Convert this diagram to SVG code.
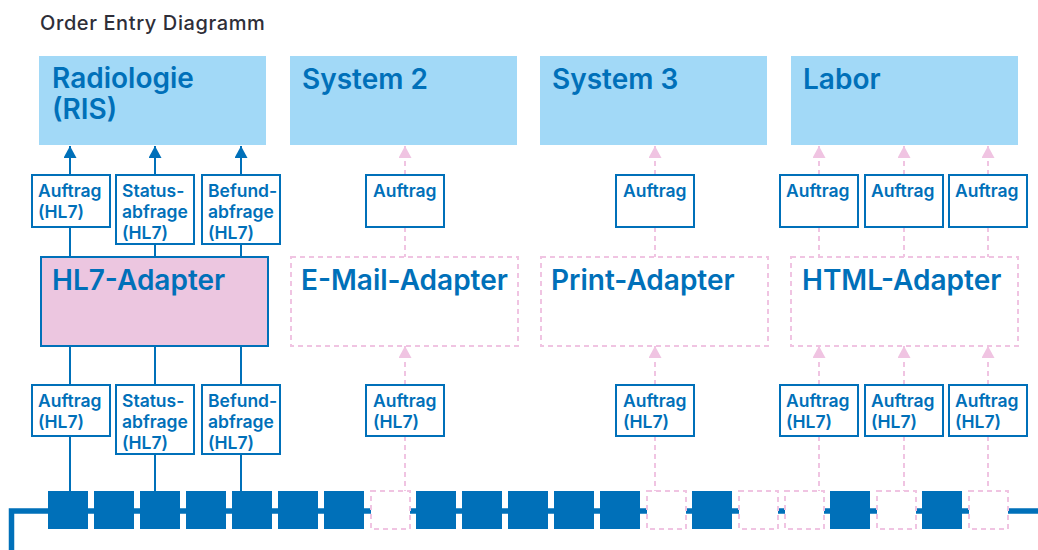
<svg xmlns="http://www.w3.org/2000/svg" width="1038" height="550" viewBox="0 0 1038 550">
  <defs>
    <style>
      .title { font-family: Inter, "Liberation Sans", sans-serif; font-size: 20px; font-weight: 500; letter-spacing: 0.6px; fill: #2e2e38; }
      .sys { fill: #a2d9f7; }
      .big { font-family: Inter, "Liberation Sans", sans-serif; font-size: 28px; font-weight: 600; fill: #0070b9; }
      .lbl { font-family: Inter, "Liberation Sans", sans-serif; font-size: 17.5px; font-weight: 600; fill: #0070b9; }
      .lblbox { fill: #ffffff; stroke: #0070b9; stroke-width: 2; }
      .hl7 { fill: #ecc6e0; stroke: #0070b9; stroke-width: 2; }
      .dashbox { fill: #ffffff; stroke: #f0c4e2; stroke-width: 2; stroke-dasharray: 5 4; }
      .solid { stroke: #0070b9; stroke-width: 2; fill: none; }
      .dashed { stroke: #f0c4e2; stroke-width: 2; fill: none; stroke-dasharray: 5 4; }
      .block { fill: #0070b9; }
      .bus { stroke: #0070b9; stroke-width: 5.5; fill: none; }
    </style>
    <marker id="arrowBlue" markerUnits="userSpaceOnUse" markerWidth="14" markerHeight="14" refX="12" refY="6.5" orient="auto">
      <path d="M0,0 L12,6.5 L0,13 Z" fill="#0070b9"/>
    </marker>
    <marker id="arrowPink" markerUnits="userSpaceOnUse" markerWidth="14" markerHeight="14" refX="12" refY="6.5" orient="auto">
      <path d="M0,0 L12,6.5 L0,13 Z" fill="#f0c4e2"/>
    </marker>
  </defs>

  <rect width="1038" height="550" fill="#ffffff"/>

  <text class="title" x="40" y="30">Order Entry Diagramm</text>

  <!-- connectors -->
  <g id="connectors">
    <!-- HL7 adapter: solid lines -->
    <line class="solid" x1="70" y1="175" x2="70" y2="146" marker-end="url(#arrowBlue)"/>
    <line class="solid" x1="155" y1="175" x2="155" y2="146" marker-end="url(#arrowBlue)"/>
    <line class="solid" x1="241" y1="175" x2="241" y2="146" marker-end="url(#arrowBlue)"/>
    <line class="solid" x1="70" y1="227" x2="70" y2="257"/>
    <line class="solid" x1="155" y1="244" x2="155" y2="257"/>
    <line class="solid" x1="241" y1="244" x2="241" y2="257"/>
    <line class="solid" x1="70" y1="346" x2="70" y2="385"/>
    <line class="solid" x1="155" y1="346" x2="155" y2="385"/>
    <line class="solid" x1="241" y1="346" x2="241" y2="385"/>
    <line class="solid" x1="70" y1="436" x2="70" y2="491"/>
    <line class="solid" x1="155" y1="454" x2="155" y2="491"/>
    <line class="solid" x1="241" y1="454" x2="241" y2="491"/>

    <!-- other adapters: dashed lines -->
    <line class="dashed" x1="405" y1="175" x2="405" y2="146" marker-end="url(#arrowPink)"/>
    <line class="dashed" x1="655" y1="175" x2="655" y2="146" marker-end="url(#arrowPink)"/>
    <line class="dashed" x1="819" y1="175" x2="819" y2="146" marker-end="url(#arrowPink)"/>
    <line class="dashed" x1="904" y1="175" x2="904" y2="146" marker-end="url(#arrowPink)"/>
    <line class="dashed" x1="988" y1="175" x2="988" y2="146" marker-end="url(#arrowPink)"/>
    <line class="dashed" x1="405" y1="227" x2="405" y2="257"/>
    <line class="dashed" x1="655" y1="227" x2="655" y2="257"/>
    <line class="dashed" x1="819" y1="227" x2="819" y2="257"/>
    <line class="dashed" x1="904" y1="227" x2="904" y2="257"/>
    <line class="dashed" x1="988" y1="227" x2="988" y2="257"/>

    <line class="dashed" x1="405" y1="385" x2="405" y2="346" marker-end="url(#arrowPink)"/>
    <line class="dashed" x1="655" y1="385" x2="655" y2="346" marker-end="url(#arrowPink)"/>
    <line class="dashed" x1="819" y1="385" x2="819" y2="346" marker-end="url(#arrowPink)"/>
    <line class="dashed" x1="904" y1="385" x2="904" y2="346" marker-end="url(#arrowPink)"/>
    <line class="dashed" x1="988" y1="385" x2="988" y2="346" marker-end="url(#arrowPink)"/>
    <line class="dashed" x1="405" y1="436" x2="405" y2="491"/>
    <line class="dashed" x1="655" y1="436" x2="655" y2="491"/>
    <line class="dashed" x1="819" y1="436" x2="819" y2="491"/>
    <line class="dashed" x1="904" y1="436" x2="904" y2="491"/>
    <line class="dashed" x1="988" y1="436" x2="988" y2="491"/>
  </g>

  <!-- target systems -->
  <g id="sys-radiologie">
    <rect class="sys" x="39" y="56" width="227" height="89"/>
    <text class="big" x="52" y="88">Radiologie</text>
    <text class="big" x="52" y="119">(RIS)</text>
  </g>
  <g id="sys-system2">
    <rect class="sys" x="290" y="56" width="227" height="89"/>
    <text class="big" x="302" y="89">System 2</text>
  </g>
  <g id="sys-system3">
    <rect class="sys" x="540" y="56" width="227" height="89"/>
    <text class="big" x="552" y="89">System 3</text>
  </g>
  <g id="sys-labor">
    <rect class="sys" x="791" y="56" width="227" height="89"/>
    <text class="big" x="803" y="89">Labor</text>
  </g>

  <!-- adapters -->
  <g id="adapter-hl7">
    <rect class="hl7" x="41" y="257" width="227" height="89"/>
    <text class="big" x="52" y="290">HL7-Adapter</text>
  </g>
  <g id="adapter-email">
    <rect class="dashbox" x="291" y="257" width="227" height="89"/>
    <text class="big" x="301" y="290">E-Mail-Adapter</text>
  </g>
  <g id="adapter-print">
    <rect class="dashbox" x="541" y="257" width="227" height="89"/>
    <text class="big" x="551" y="290">Print-Adapter</text>
  </g>
  <g id="adapter-html">
    <rect class="dashbox" x="791" y="257" width="227" height="89"/>
    <text class="big" x="802" y="290">HTML-Adapter</text>
  </g>

  <!-- message labels above the adapters -->
  <g id="out-hl7-auftrag">
    <rect class="lblbox" x="32" y="175" width="78" height="52"/>
    <text class="lbl" x="38" y="197">Auftrag</text>
    <text class="lbl" x="38" y="218">(HL7)</text>
  </g>
  <g id="out-hl7-status">
    <rect class="lblbox" x="116" y="175" width="78" height="69"/>
    <text class="lbl" x="122" y="197">Status-</text>
    <text class="lbl" x="122" y="218">abfrage</text>
    <text class="lbl" x="122" y="239">(HL7)</text>
  </g>
  <g id="out-hl7-befund">
    <rect class="lblbox" x="202" y="175" width="78" height="69"/>
    <text class="lbl" x="208" y="197">Befund-</text>
    <text class="lbl" x="208" y="218">abfrage</text>
    <text class="lbl" x="208" y="239">(HL7)</text>
  </g>
  <g id="out-email-auftrag">
    <rect class="lblbox" x="366" y="175" width="78" height="52"/>
    <text class="lbl" x="373" y="197">Auftrag</text>
  </g>
  <g id="out-print-auftrag">
    <rect class="lblbox" x="616" y="175" width="78" height="52"/>
    <text class="lbl" x="623" y="197">Auftrag</text>
  </g>
  <g id="out-html-auftrag-1">
    <rect class="lblbox" x="780" y="175" width="78" height="52"/>
    <text class="lbl" x="786" y="197">Auftrag</text>
  </g>
  <g id="out-html-auftrag-2">
    <rect class="lblbox" x="865" y="175" width="78" height="52"/>
    <text class="lbl" x="871" y="197">Auftrag</text>
  </g>
  <g id="out-html-auftrag-3">
    <rect class="lblbox" x="949" y="175" width="78" height="52"/>
    <text class="lbl" x="955" y="197">Auftrag</text>
  </g>

  <!-- message labels below the adapters -->
  <g id="in-hl7-auftrag">
    <rect class="lblbox" x="32" y="385" width="78" height="51"/>
    <text class="lbl" x="38" y="407">Auftrag</text>
    <text class="lbl" x="38" y="428">(HL7)</text>
  </g>
  <g id="in-hl7-status">
    <rect class="lblbox" x="116" y="385" width="78" height="69"/>
    <text class="lbl" x="122" y="407">Status-</text>
    <text class="lbl" x="122" y="428">abfrage</text>
    <text class="lbl" x="122" y="449">(HL7)</text>
  </g>
  <g id="in-hl7-befund">
    <rect class="lblbox" x="202" y="385" width="78" height="69"/>
    <text class="lbl" x="208" y="407">Befund-</text>
    <text class="lbl" x="208" y="428">abfrage</text>
    <text class="lbl" x="208" y="449">(HL7)</text>
  </g>
  <g id="in-email-auftrag">
    <rect class="lblbox" x="366" y="385" width="78" height="51"/>
    <text class="lbl" x="373" y="407">Auftrag</text>
    <text class="lbl" x="373" y="428">(HL7)</text>
  </g>
  <g id="in-print-auftrag">
    <rect class="lblbox" x="616" y="385" width="78" height="51"/>
    <text class="lbl" x="623" y="407">Auftrag</text>
    <text class="lbl" x="623" y="428">(HL7)</text>
  </g>
  <g id="in-html-auftrag-1">
    <rect class="lblbox" x="780" y="385" width="78" height="51"/>
    <text class="lbl" x="786" y="407">Auftrag</text>
    <text class="lbl" x="786" y="428">(HL7)</text>
  </g>
  <g id="in-html-auftrag-2">
    <rect class="lblbox" x="865" y="385" width="78" height="51"/>
    <text class="lbl" x="871" y="407">Auftrag</text>
    <text class="lbl" x="871" y="428">(HL7)</text>
  </g>
  <g id="in-html-auftrag-3">
    <rect class="lblbox" x="949" y="385" width="78" height="51"/>
    <text class="lbl" x="955" y="407">Auftrag</text>
    <text class="lbl" x="955" y="428">(HL7)</text>
  </g>

  <!-- message bus with slots -->
  <g id="bus">
    <path class="bus" d="M11.5,550 V511 H1038"/>
    <rect class="block" x="48" y="491" width="40" height="38"/>
    <rect class="block" x="94" y="491" width="40" height="38"/>
    <rect class="block" x="140" y="491" width="40" height="38"/>
    <rect class="block" x="186" y="491" width="40" height="38"/>
    <rect class="block" x="232" y="491" width="40" height="38"/>
    <rect class="block" x="278" y="491" width="40" height="38"/>
    <rect class="block" x="324" y="491" width="40" height="38"/>
    <rect class="dashbox" x="371" y="491" width="39" height="38"/>
    <rect class="block" x="416" y="491" width="40" height="38"/>
    <rect class="block" x="462" y="491" width="40" height="38"/>
    <rect class="block" x="508" y="491" width="40" height="38"/>
    <rect class="block" x="554" y="491" width="40" height="38"/>
    <rect class="block" x="600" y="491" width="40" height="38"/>
    <rect class="dashbox" x="647" y="491" width="39" height="38"/>
    <rect class="block" x="692" y="491" width="40" height="38"/>
    <rect class="dashbox" x="739" y="491" width="39" height="38"/>
    <rect class="dashbox" x="785" y="491" width="39" height="38"/>
    <rect class="block" x="830" y="491" width="40" height="38"/>
    <rect class="dashbox" x="877" y="491" width="39" height="38"/>
    <rect class="block" x="922" y="491" width="40" height="38"/>
    <rect class="dashbox" x="969" y="491" width="39" height="38"/>
  </g>
</svg>
